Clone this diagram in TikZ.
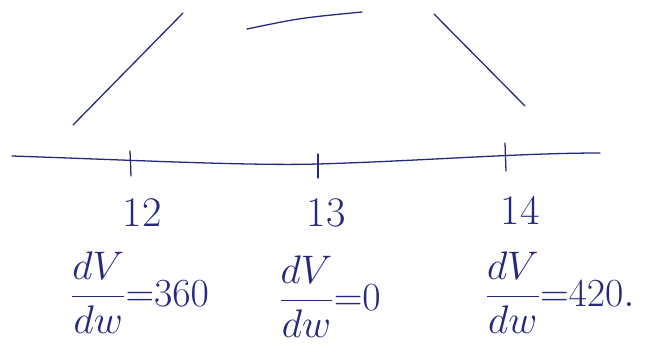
\RequirePackage{fix-cm}
\documentclass[tikz,border=0pt]{standalone}
\usepackage{amsmath,amssymb}
\usepackage{xcolor}
\usetikzlibrary{positioning}
\definecolor{ink}{RGB}{38,40,125}

\begin{document}
\begin{tikzpicture}[
  x=0.03cm, y=-0.03cm,
  pen/.style={draw=ink, line width=1.1pt, line cap=round},
  ticklbl/.style={text=ink, font=\fontsize{36}{40}\selectfont, inner sep=1pt},
  slopelbl/.style={text=ink, font=\fontsize{34}{38}\selectfont, inner sep=1pt},
]

\useasboundingbox (0,0) rectangle (660,361);

% --- Slope pieces ---
\draw[pen] (73,125) -- (183,13);
\draw[pen] (247,29) .. controls (300,18) .. (362,12);
\draw[pen] (434,14) .. controls (480,60) .. (525,106);

% --- Axis ---
\draw[pen] (12,156) .. controls (130,160) and (250,166) .. (318,164)
           .. controls (420,161) and (520,153) .. (600,153);
\draw[pen] (130,151) -- (131,176);
\draw[pen] (318,154) -- (318,178);
\draw[pen] (505,143) -- (506,171);

% --- Tick labels ---
\node[ticklbl] (l12) at (142,213) {12};
\node[ticklbl] (l13) at (326,213) {13};
\node[ticklbl] (l14) at (520,210) {14};

% --- Derivatives ---
\node[slopelbl] (d12) at (140,293) {$\dfrac{dV}{dw}{=}360$};
\node[slopelbl] (d13) at (330,297) {$\dfrac{dV}{dw}{=}0$};
\node[slopelbl] (d14) at (560,293) {$\dfrac{dV}{dw}{=}420.$};

\end{tikzpicture}
\end{document}
